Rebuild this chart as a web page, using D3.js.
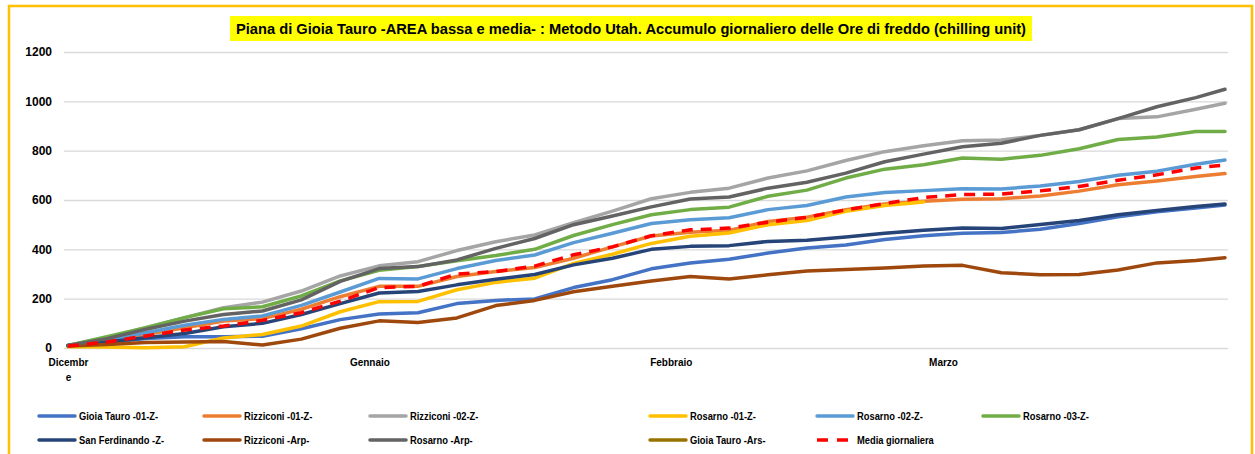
<!DOCTYPE html>
<html>
<head>
<meta charset="utf-8">
<script src="https://cdn.jsdelivr.net/npm/d3@7"></script>
<style>
  body { margin: 0; background: #fff; }
  text { font-family: "Liberation Sans", Arial, sans-serif; font-weight: bold; fill: #000; }
</style>
</head>
<body>
<div id="chart"></div>
<script>
// day index from 1 December (sampled every 4 days, last = 30 March)
var days = [0,4,8,12,16,20,24,28,32,36,40,44,48,52,56,60,64,68,72,76,80,84,88,92,96,100,104,108,112,116,119];

var monthLabels = ["Dicembre", "Gennaio", "Febbraio", "Marzo"];
var monthDays = [0, 31, 62, 90];
var yTicks = [0, 200, 400, 600, 800, 1000, 1200];

var seriesNames = ["Gioia Tauro -01-Z-", "Rizziconi -01-Z-", "Rizziconi -02-Z-", "Rosarno -01-Z-",
  "Rosarno -02-Z-", "Rosarno -03-Z-", "San Ferdinando -Z-", "Rizziconi -Arp-", "Rosarno -Arp-",
  "Gioia Tauro -Ars-", "Media giornaliera"];

var gioiaTauro01 = [10,22,38,46,46,48,78,115,138,143,180,193,199,245,277,321,345,360,385,405,418,440,455,465,468,481,505,532,552,568,580];
var rizziconi01 = [10,28,55,82,109,119,157,208,250,250,290,310,326,364,410,454,469,477,513,530,561,584,595,603,605,616,636,662,677,695,707];
var rizziconi02 = [10,42,82,123,163,186,231,292,333,350,395,431,458,508,555,605,631,648,689,718,760,796,820,840,843,862,885,930,937,968,992];
var rosarno01 = [5,4,1,5,41,55,89,147,188,189,236,266,283,343,380,424,453,466,500,517,554,578,592,null,null,null,null,null,null,null,null];
var rosarno02 = [10,32,62,92,116,130,173,227,282,280,322,355,377,427,465,505,520,528,561,578,612,630,638,646,645,657,675,700,717,745,762];
var rosarno03 = [10,46,82,123,159,167,211,272,315,330,354,375,400,456,500,540,561,571,615,640,689,725,743,770,765,781,808,845,855,878,878];
var sanFerdinando = [10,24,42,59,86,100,136,180,223,229,256,279,298,337,364,400,412,415,432,437,450,465,477,486,484,501,517,540,557,574,584];
var rizziconiArp = [8,14,22,24,26,12,36,80,110,103,122,172,193,228,250,272,290,280,297,312,318,324,332,335,305,297,298,316,345,355,366];
var rosarnoArp = [10,38,76,109,136,150,195,270,322,330,357,404,444,500,535,572,604,612,648,672,709,755,786,816,830,862,885,930,978,1015,1049];
var gioiaTauroArs = [];
var mediaGiornaliera = [8,24,49,73,89,112,143,190,245,250,300,310,332,378,410,455,479,486,510,530,560,585,610,622,624,637,655,680,702,730,742];

var seriesValues = [gioiaTauro01, rizziconi01, rizziconi02, rosarno01, rosarno02, rosarno03,
  sanFerdinando, rizziconiArp, rosarnoArp, gioiaTauroArs, mediaGiornaliera];

var colors = ["#4472C4", "#ED7D31", "#A5A5A5", "#FFC000", "#5B9BD5", "#70AD47",
  "#264478", "#9E480E", "#636363", "#997300", "#FF0000"];

var W = 1255, H = 454;
var plot = {left: 64, right: 1228, top: 52, bottom: 348};

var svg = d3.select("#chart").append("svg")
    .attr("width", W)
    .attr("height", H);

svg.append("rect").attr("width", W).attr("height", H).attr("fill", "#fff");

// orange frame
svg.append("rect")
    .attr("x", 9).attr("y", 6)
    .attr("width", 1243).attr("height", 470)
    .attr("fill", "none")
    .attr("stroke", "#FFC000")
    .attr("stroke-width", 2.5);

// title
svg.append("rect")
    .attr("x", 230).attr("y", 16)
    .attr("width", 802).attr("height", 25)
    .attr("fill", "#FFFF00");
svg.append("text")
    .attr("x", 631).attr("y", 34)
    .attr("text-anchor", "middle")
    .attr("textLength", 790)
    .attr("lengthAdjust", "spacingAndGlyphs")
    .style("font-size", "14.5px")
    .text("Piana di Gioia Tauro -AREA bassa e media- : Metodo Utah. Accumulo giornaliero delle Ore di freddo (chilling unit)");

var x = d3.scaleLinear()
    .domain([0, 119])
    .range([68, 1225]);

var y = d3.scaleLinear()
    .domain([0, 1200])
    .range([plot.bottom, plot.top]);

// Y axis + gridlines
var yAxis = svg.append("g")
    .attr("transform", "translate(" + plot.left + ",0)")
    .call(d3.axisLeft(y)
      .tickValues(yTicks)
      .tickFormat(d3.format("d"))
      .tickSize(-(plot.right - plot.left))
      .tickPadding(12));
yAxis.select(".domain").remove();
yAxis.selectAll("line").attr("stroke", "#D9D9D9").attr("stroke-width", 1.3);
yAxis.selectAll("text")
    .style("font-size", "12px")
    .style("font-family", "'Liberation Sans', Arial, sans-serif")
    .style("font-weight", "bold")
    .attr("fill", "#000");

// X axis (month labels)
var xAxis = svg.append("g")
    .attr("transform", "translate(0," + plot.bottom + ")")
    .call(d3.axisBottom(x)
      .tickValues(monthDays)
      .tickFormat(function(d, i) { return monthLabels[i]; })
      .tickSize(0)
      .tickPadding(11));
xAxis.select(".domain").remove();
xAxis.selectAll("text")
    .style("font-size", "10px")
    .style("font-family", "'Liberation Sans', Arial, sans-serif")
    .style("font-weight", "bold")
    .attr("fill", "#000")
    .each(function() {
      // wrap labels too wide for their slot, like Excel does
      var t = d3.select(this);
      var label = t.text();
      if (this.getComputedTextLength() > 45) {
        t.text(null);
        t.append("tspan").attr("x", 0).attr("dy", "0.71em").text(label.slice(0, -1));
        t.append("tspan").attr("x", 0).attr("dy", "1.45em").text(label.slice(-1));
        t.attr("dy", null);
      }
    });

// lines
var line = d3.line()
    .defined(function(d) { return d != null; })
    .x(function(d, i) { return x(days[i]); })
    .y(function(d) { return y(d); });

seriesValues.forEach(function(vals, k) {
  if (!vals.length) return;
  var isMean = k === seriesValues.length - 1;
  svg.append("path")
    .datum(vals)
    .attr("d", line)
    .attr("fill", "none")
    .attr("stroke", colors[k])
    .attr("stroke-width", 3.5)
    .attr("stroke-linejoin", "round")
    .attr("stroke-linecap", isMean ? "butt" : "round")
    .attr("stroke-dasharray", isMean ? "11,8" : null);
});

// legend
var legX = [39, 204, 370, 650, 817, 983];
var legY = [416, 440];
var legend = svg.append("g");
seriesNames.forEach(function(name, k) {
  var col = k % 6, row = Math.floor(k / 6);
  var lx = legX[col], ly = legY[row];
  var isMean = k === seriesNames.length - 1;
  var g = legend.append("g").attr("transform", "translate(" + lx + "," + ly + ")");
  g.append("line")
    .attr("x1", 0).attr("x2", isMean ? 32 : 36)
    .attr("y1", 0).attr("y2", 0)
    .attr("stroke", colors[k])
    .attr("stroke-width", 3.5)
    .attr("stroke-linecap", isMean ? "butt" : "round")
    .attr("stroke-dasharray", isMean ? "11,9" : null);
  // narrow, Calibri-like labels
  g.append("text")
    .attr("transform", "translate(40,4) scale(0.85,1)")
    .style("font-size", "11px")
    .text(name);
});
</script>
</body>
</html>
